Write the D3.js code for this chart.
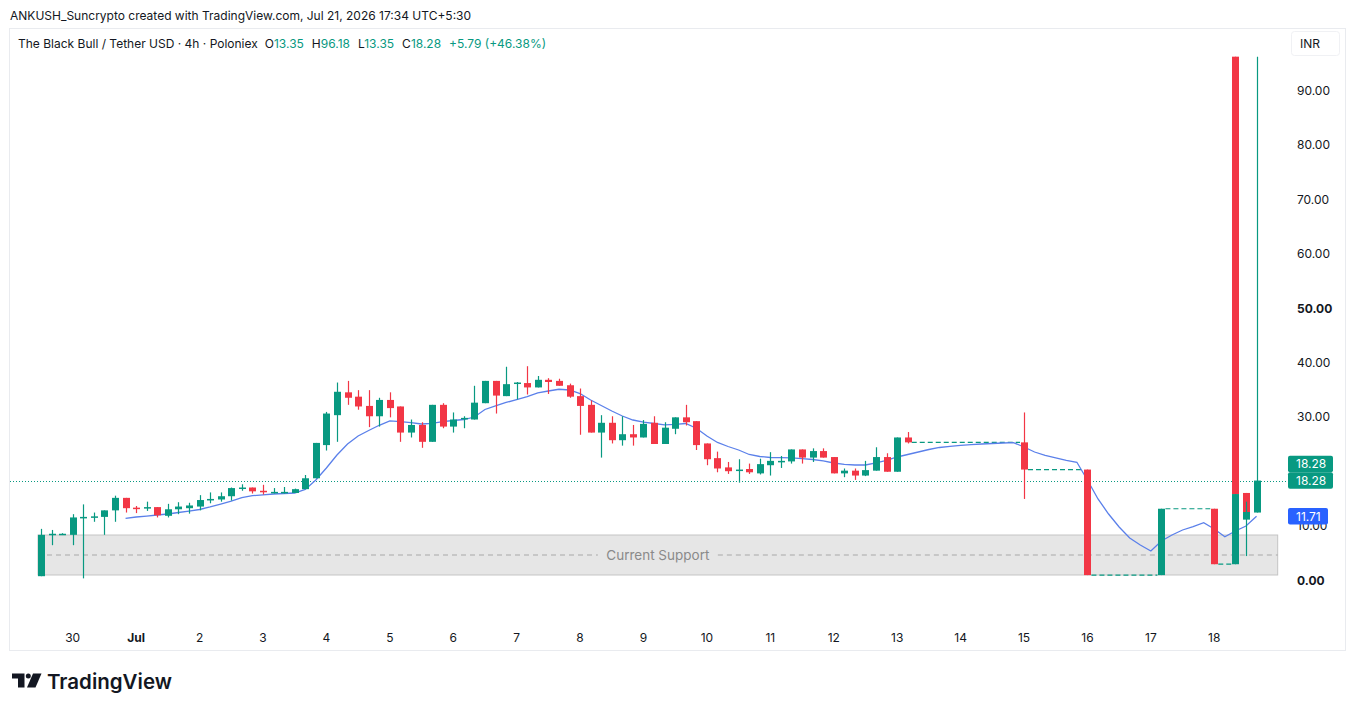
<!DOCTYPE html>
<html>
<head>
<meta charset="utf-8">
<script src="https://cdn.jsdelivr.net/npm/d3@7"></script>
<style>
  body { margin: 0; background: #fff; }
  svg { display: block; font-family: Inter, 'Noto Sans', sans-serif; }
</style>
</head>
<body>
<div id="chart"></div>
<script>
// 4h bars, index counted from Jun 29 2026 12:00 (bars 113 and 114 are drawn twice in the source)
const BAR = [
  0, 1, 2, 3, 4, 5, 6, 7, 8, 9, 10, 11, 12, 13, 14, 15, 16, 17, 18, 19,
  20, 21, 22, 23, 24, 25, 26, 27, 28, 29, 30, 31, 32, 33, 34, 35, 36, 37, 38, 39,
  40, 41, 42, 43, 44, 45, 46, 47, 48, 49, 50, 51, 52, 53, 54, 55, 56, 57, 58, 59,
  60, 61, 62, 63, 64, 65, 66, 67, 68, 69, 70, 71, 72, 73, 74, 75, 76, 77, 78, 79,
  80, 81, 82, 93, 99, 106, 111, 113, 113, 114, 114, 115
];
const OPEN = [
  0.7, 8.4, 8.4, 8.3, 11.5, 11.6, 11.6, 12.8, 15.1, 13.3, 13.3, 13.4, 11.8, 13.0, 13.2, 13.5, 14.7, 14.8, 15.4, 16.9,
  17.0, 16.4, 16.1, 16.1, 16.0, 16.7, 18.7, 24.8, 30.3, 34.5, 33.7, 32.0, 30.1, 33.1, 31.9, 27.1, 28.5, 25.4, 32.2, 28.2,
  29.6, 29.5, 32.5, 36.6, 33.8, 36.1, 36.2, 35.4, 36.8, 36.6, 35.8, 33.8, 32.2, 27.1, 28.9, 25.7, 26.8, 26.2, 28.9, 25.0,
  27.8, 29.9, 29.2, 25.1, 22.4, 20.7, 20.2, 20.4, 19.6, 21.1, 21.8, 21.8, 24.0, 22.5, 23.7, 22.6, 19.6, 20.1, 19.2, 20.1,
  22.6, 19.9, 26.2, 25.3, 20.3, 0.9, 13.1, 96.2, 2.9, 16.0, 11.1, 12.4
];
const HIGH = [
  9.4, 9.2, 8.6, 12.1, 13.9, 12.4, 12.8, 15.5, 15.1, 13.6, 14.4, 13.4, 14.0, 14.3, 14.2, 15.6, 16.1, 16.1, 17.0, 17.6,
  17.0, 17.5, 16.9, 17.1, 16.8, 19.3, 25.2, 30.9, 36.3, 36.6, 34.9, 34.9, 33.5, 34.5, 31.9, 29.5, 29.0, 32.2, 32.5, 30.8,
  30.1, 35.7, 36.6, 36.6, 39.2, 36.4, 39.3, 37.5, 37.1, 37.0, 36.1, 35.2, 33.0, 30.3, 30.1, 30.1, 28.5, 29.4, 30.1, 29.0,
  29.9, 32.2, 29.2, 25.1, 23.6, 21.7, 22.2, 21.4, 22.3, 23.5, 22.8, 24.0, 24.0, 24.2, 24.2, 22.6, 20.5, 20.5, 21.9, 24.4,
  23.3, 26.2, 27.2, 30.8, 20.3, 13.1, 13.1, 96.2, 15.8, 16.0, 14.4, 96.18
];
const LOW = [
  0.7, 6.4, 8.4, 6.4, 0.3, 10.7, 8.3, 10.7, 12.4, 12.3, 12.7, 11.5, 11.5, 12.1, 12.2, 12.8, 14.1, 14.4, 14.6, 16.4,
  15.9, 15.7, 15.9, 15.9, 16.0, 16.7, 18.7, 23.8, 25.4, 32.2, 31.3, 28.1, 28.2, 29.9, 25.4, 26.2, 24.3, 25.4, 27.9, 27.1,
  27.9, 29.5, 32.5, 30.6, 33.8, 33.2, 34.1, 35.4, 34.2, 35.7, 33.5, 26.7, 27.1, 22.5, 25.1, 24.7, 24.7, 26.2, 25.0, 25.0,
  26.8, 28.4, 23.9, 21.1, 19.8, 19.5, 17.9, 19.5, 19.4, 19.2, 20.6, 21.4, 21.4, 21.7, 22.5, 19.6, 18.9, 18.4, 19.1, 20.1,
  19.9, 19.9, 25.1, 14.9, 0.9, 0.9, 2.9, 15.8, 2.9, 12.5, 4.4, 12.4
];
const CLOSE = [
  8.3, 8.5, 8.5, 11.5, 11.6, 11.7, 12.8, 15.1, 13.2, 13.1, 13.4, 11.9, 13.0, 13.5, 13.7, 14.7, 14.9, 15.4, 16.9, 17.0,
  16.3, 16.2, 16.2, 16.2, 16.7, 18.7, 25.2, 30.6, 34.6, 33.5, 31.9, 30.1, 33.1, 31.6, 27.1, 28.5, 25.4, 32.2, 28.2, 29.5,
  29.8, 32.6, 36.6, 33.9, 36.0, 36.3, 35.4, 36.8, 36.4, 35.7, 33.7, 32.0, 27.1, 28.9, 25.7, 26.8, 26.2, 28.7, 25.0, 28.0,
  29.9, 29.0, 24.8, 22.2, 20.5, 20.0, 20.3, 19.8, 21.3, 21.9, 21.9, 24.0, 22.5, 23.7, 22.5, 19.6, 20.1, 19.2, 20.2, 22.6,
  19.9, 26.2, 25.3, 20.3, 0.9, 13.1, 2.9, 15.8, 15.8, 12.5, 12.5, 18.28
];

// moving average, one value per bar from MA_START
const MA_START = 8;
const MA = [
  11.34, 11.58, 11.76, 11.95, 12.13, 12.41, 12.68, 12.96, 13.42, 13.97,
  14.52, 15.13, 15.50, 15.66, 15.81, 15.90, 15.99, 16.64, 18.38, 20.59,
  22.98, 25.00, 26.47, 27.48, 28.44, 29.26, 29.10, 28.92, 28.68, 28.81,
  29.10, 29.32, 29.50, 29.96, 31.34, 32.02, 32.63, 33.18, 33.73, 34.38,
  34.74, 35.06, 34.93, 34.28, 33.09, 32.08, 31.07, 30.15, 29.41, 29.04,
  28.77, 28.53, 28.62, 28.77, 27.89, 26.47, 25.28, 24.54, 23.90, 23.07,
  22.70, 22.52, 22.48, 22.46, 22.30, 22.15, 21.88, 21.51, 21.27, 21.14,
  21.14, 21.54, 22.00, 22.61, 23.07, 23.53, 23.99, 24.36, 24.58, 24.74,
  24.89, 25.00, 25.09, 25.18, 25.26, 24.45, 23.53, 22.89, 22.43, 22.00,
  21.64, 18.38, 14.89, 12.13, 9.74, 7.72, 6.43, 5.33, 7.17, 8.27,
  9.19, 9.83, 10.53, 9.38, 7.96, 9.01, 9.93, 11.71
];

const PRICE_TICKS = [0, 10, 20, 30, 40, 50, 60, 70, 80, 90];
const BOLD_PRICES = [0, 50];
const SUPPORT = [0.92, 8.27];
const SUPPORT_BARS = [0, 117];
const SUPPORT_LABEL = 'Current Support';

const TITLE = 'ANKUSH_Suncrypto created with TradingView.com, Jul 21, 2026 17:34 UTC+5:30';
const SYMBOL = 'The Black Bull / Tether USD · 4h · Poloniex';
const OHLC = [['O', '13.35'], ['H', '96.18'], ['L', '13.35'], ['C', '18.28']];
const CHANGE = '+5.79 (+46.38%)';

const UP = '#089981', DOWN = '#f23645', TEXT = '#131722';
const W = 1355, H = 711;
const T0 = Date.UTC(2026, 5, 29, 12);
const barTime = b => new Date(T0 + b * 4 * 3600 * 1000);

const svg = d3.select('#chart').append('svg')
  .attr('width', W).attr('height', H);

const x = d3.scaleUtc()
  .domain([barTime(0), barTime(115)])
  .range([41, 41 + 115 * 10.57]);

const y = d3.scaleLinear()
  .domain([0, 90])
  .range([580, 90.4]);

// frame
svg.append('rect')
  .attr('x', 9.5).attr('y', 28.5).attr('width', 1336).attr('height', 622)
  .attr('fill', 'none').attr('stroke', '#e9ebef');

svg.append('text')
  .attr('x', 10).attr('y', 19.5)
  .attr('font-size', '12px').attr('fill', TEXT)
  .text(TITLE);

const legend = svg.append('text')
  .attr('x', 18).attr('y', 47.5)
  .attr('font-size', '12px').attr('fill', TEXT);
legend.append('tspan').text(SYMBOL);
OHLC.forEach(([k, v], i) => {
  legend.append('tspan').attr('dx', i === 0 ? 7 : 8).text(k);
  legend.append('tspan').attr('fill', UP).text(v);
});
legend.append('tspan').attr('dx', 8).attr('fill', UP).text(CHANGE);

// support zone
const sx0 = x(barTime(SUPPORT_BARS[0])) - 3, sx1 = x(barTime(SUPPORT_BARS[1]));
svg.append('rect')
  .attr('x', sx0).attr('y', y(SUPPORT[1]))
  .attr('width', sx1 - sx0).attr('height', y(SUPPORT[0]) - y(SUPPORT[1]))
  .attr('fill', '#e6e6e6').attr('stroke', '#c4c4c4').attr('stroke-width', 1);
const sMid = y((SUPPORT[0] + SUPPORT[1]) / 2);
const sLabelX = (sx0 + sx1) / 2;
svg.append('line')
  .attr('x1', sx0).attr('x2', sLabelX - 60).attr('y1', sMid).attr('y2', sMid)
  .attr('stroke', '#a8a8a8').attr('stroke-dasharray', '5,4');
svg.append('line')
  .attr('x1', sLabelX + 60).attr('x2', sx1).attr('y1', sMid).attr('y2', sMid)
  .attr('stroke', '#a8a8a8').attr('stroke-dasharray', '5,4');
svg.append('text')
  .attr('x', sLabelX).attr('y', sMid + 5)
  .attr('text-anchor', 'middle').attr('font-size', '13.5px').attr('fill', '#8a8a8a')
  .text(SUPPORT_LABEL);

// last price line
const lastClose = CLOSE[CLOSE.length - 1];
svg.append('line')
  .attr('x1', 10).attr('x2', 1288)
  .attr('y1', Math.round(y(lastClose)) + 0.5).attr('y2', Math.round(y(lastClose)) + 0.5)
  .attr('stroke', UP).attr('stroke-dasharray', '1,2');

const candles = BAR.map((b, i) => ({ t: barTime(b), bar: b, o: OPEN[i], h: HIGH[i], l: LOW[i], c: CLOSE[i] }));

// dashed connectors across missing bars
const gaps = [];
for (let i = 1; i < candles.length; i++) {
  if (candles[i].bar - candles[i - 1].bar > 1) gaps.push([candles[i - 1], candles[i]]);
}
svg.append('g').selectAll('line').data(gaps).join('line')
  .attr('x1', d => x(d[0].t) + 4).attr('x2', d => x(d[1].t) - 4)
  .attr('y1', d => y(d[0].c)).attr('y2', d => y(d[0].c))
  .attr('stroke', UP).attr('stroke-width', 1.2).attr('stroke-dasharray', '5,3');

// moving average
const maPts = MA.map((v, i) => [barTime(MA_START + i), v]);
svg.append('path')
  .datum(maPts)
  .attr('fill', 'none').attr('stroke', '#5b80ea').attr('stroke-width', 1.3)
  .attr('d', d3.line().x(d => x(d[0])).y(d => y(d[1])));

// candles
const cg = svg.append('g').selectAll('g').data(candles).join('g');
cg.append('line')
  .attr('x1', d => Math.round(x(d.t)) + 0.5).attr('x2', d => Math.round(x(d.t)) + 0.5)
  .attr('y1', d => y(d.h)).attr('y2', d => y(d.l))
  .attr('stroke-width', 1.2)
  .attr('stroke', d => d.c >= d.o ? UP : DOWN);
cg.append('rect')
  .attr('x', d => Math.round(x(d.t)) - 3)
  .attr('width', 7)
  .attr('y', d => y(Math.max(d.o, d.c)))
  .attr('height', d => Math.max(1.5, Math.abs(y(d.o) - y(d.c))))
  .attr('fill', d => d.c >= d.o ? UP : DOWN);

// price labels on the scale
const TAG_H = 16.5;
const tags = [
  { v: lastClose, fill: UP, w: 45, dy: -TAG_H },
  { v: lastClose, fill: UP, w: 45, dy: 0 },
  { v: MA[MA.length - 1], fill: '#2962ff', w: 40, dy: 0 }
];

// price axis: a tick label lying wholly under the price tags is not shown
const tagTop = g => y(g.v) + g.dy - TAG_H / 2;
const covered = t => {
  const top = y(t) - 6, bot = y(t) + 6;
  const spans = tags.map(g => [tagTop(g), tagTop(g) + TAG_H]).sort((a, b) => a[0] - b[0]);
  let reach = -Infinity;
  for (const [a, b] of spans) {
    if (a > Math.max(reach, top) + 0.5 && a <= bot) return false;
    if (a <= top + 0.5 || a <= reach + 0.5) reach = Math.max(reach, b);
  }
  return reach >= bot;
};
svg.append('g').selectAll('text').data(PRICE_TICKS.filter(t => !covered(t))).join('text')
  .attr('x', 1297).attr('y', d => y(d) + 4.5)
  .attr('font-size', '12px').attr('fill', TEXT)
  .attr('font-weight', d => BOLD_PRICES.includes(d) ? 700 : 400)
  .text(d => d.toFixed(2));

svg.append('rect')
  .attr('x', 1291.5).attr('y', 31.5).attr('width', 48).attr('height', 24).attr('rx', 3)
  .attr('fill', '#fff').attr('stroke', '#f0f1f4');
svg.append('text')
  .attr('x', 1300).attr('y', 48).attr('font-size', '12px').attr('fill', TEXT).text('INR');

const tg = svg.append('g').selectAll('g').data(tags).join('g')
  .attr('transform', d => `translate(1288, ${tagTop(d)})`);
tg.append('rect')
  .attr('width', d => d.w).attr('height', TAG_H).attr('rx', 2)
  .attr('fill', d => d.fill);
tg.append('text')
  .attr('x', 8).attr('y', 12.5).attr('font-size', '12px').attr('fill', '#fff')
  .text(d => d.v.toFixed(2));

// time axis
const days = d3.utcDay.range(new Date(Date.UTC(2026, 5, 30)), new Date(Date.UTC(2026, 6, 19)));
svg.append('g').selectAll('text').data(days).join('text')
  .attr('x', d => x(d)).attr('y', 641.5)
  .attr('text-anchor', 'middle').attr('font-size', '12px').attr('fill', TEXT)
  .attr('font-weight', d => d.getUTCDate() === 1 ? 700 : 400)
  .text(d => d.getUTCDate() === 1 ? d3.utcFormat('%b')(d) : d.getUTCDate());

// TradingView mark
const logo = svg.append('g').attr('fill', TEXT);
logo.append('path').attr('d', 'M12,673.5 H24.5 V687.5 H18 V678.5 H12 Z');
logo.append('circle').attr('cx', 28.3).attr('cy', 676).attr('r', 2.5);
logo.append('path').attr('d', 'M33,673.5 H41.5 L35.5,687.5 H27 Z');
svg.append('text')
  .attr('x', 47).attr('y', 689).attr('font-size', '20.5px').attr('font-weight', 600)
  .attr('fill', TEXT).text('TradingView');
</script>
</body>
</html>
